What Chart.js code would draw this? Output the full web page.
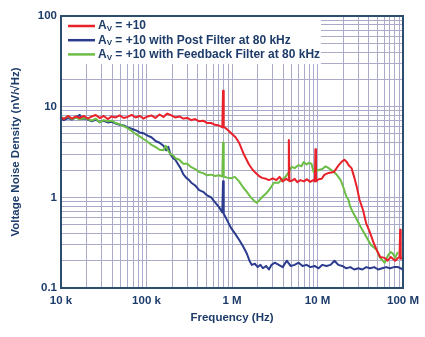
<!DOCTYPE html>
<html>
<head>
<meta charset="utf-8">
<script src="https://cdn.jsdelivr.net/npm/chart.js@4"></script>
<style>
  html, body { margin: 0; padding: 0; background: #fff; }
</style>
</head>
<body>
<canvas id="noiseChart" width="425" height="337"></canvas>
<script>
// ---- data (frequency in Hz, noise in nV/rtHz) ----
const redFreq = [10e3, 10.8e3, 12.1e3, 13.4e3, 14.9e3, 16.6e3, 18.5e3, 20.6e3, 22.9e3, 25.5e3,
  28.4e3, 31.6e3, 35.2e3, 39.2e3, 43.6e3, 48.5e3, 54e3, 60e3, 67e3, 74.5e3,
  83e3, 92e3, 103e3, 114e3, 127e3, 142e3, 158e3, 175e3, 195e3, 217e3,
  242e3, 269e3, 300e3, 334e3, 371e3, 413e3, 460e3, 512e3, 570e3, 634e3,
  706e3, 770e3, 785e3, 800e3, 840e3, 900e3, 1e6, 1.1e6, 1.21e6, 1.37e6,
  1.58e6, 1.75e6, 1.9e6, 2.1e6, 2.25e6, 2.5e6, 2.7e6, 3.0e6, 3.3e6, 3.6e6,
  3.9e6, 4.3e6, 4.55e6, 4.62e6, 4.7e6, 5.0e6, 5.4e6, 5.8e6, 6.3e6, 6.9e6,
  7.5e6, 8.2e6, 8.9e6, 9.3e6, 9.45e6, 9.6e6, 10.3e6, 11.2e6, 12e6, 13.5e6,
  15.5e6, 17.7e6, 19e6, 20.6e6, 22e6, 23e6, 25e6, 27e6, 29e6, 31e6,
  34e6, 37e6, 41e6, 45e6, 49e6, 54e6, 61e6, 66e6, 72e6, 81e6,
  88e6, 91e6, 92.5e6, 94e6, 100e6];
const redNoise = [7.7, 7.3, 7.9, 7.4, 7.8, 7.5, 7.9, 7.4, 7.8, 8.1,
  7.5, 7.9, 7.3, 7.8, 7.6, 8.0, 7.5, 7.7, 8.1, 7.6,
  7.9, 7.4, 7.8, 8.0, 7.5, 8.2, 7.7, 8.4, 8.0, 7.6,
  7.8, 7.4, 7.5, 7.1, 7.3, 6.9, 7.0, 6.6, 6.6, 6.3,
  6.2, 5.9, 15, 6.0, 5.8, 5.5, 5.0, 4.6, 4.0, 3.0,
  2.3, 2.0, 1.85, 1.7, 1.64, 1.6, 1.55, 1.62, 1.55, 1.68,
  1.5, 1.6, 1.55, 4.3, 1.5, 1.52, 1.6, 1.47, 1.55, 1.5,
  1.58, 1.48, 1.55, 1.5, 3.4, 1.5, 1.58, 1.6, 1.77, 1.86,
  1.9, 2.27, 2.45, 2.6, 2.45, 2.27, 2.1, 1.64, 1.27, 0.94,
  0.73, 0.52, 0.41, 0.32, 0.265, 0.22, 0.215, 0.2, 0.22, 0.2,
  0.215, 0.22, 0.44, 0.21, 0.215];

const blueFreq = [10e3, 10.8e3, 12.1e3, 13.4e3, 14.9e3, 16.6e3, 17.5e3, 18.5e3, 20.6e3, 22.9e3,
  25.5e3, 28.4e3, 31.6e3, 35.2e3, 39.2e3, 43.6e3, 48.5e3, 54e3, 60e3, 67e3,
  74.5e3, 83e3, 92e3, 103e3, 114e3, 127e3, 142e3, 158e3, 170e3, 180e3,
  190e3, 205e3, 217e3, 235e3, 250e3, 269e3, 290e3, 315e3, 334e3, 371e3,
  413e3, 460e3, 512e3, 570e3, 634e3, 706e3, 770e3, 785e3, 800e3, 875e3,
  973e3, 1.08e6, 1.21e6, 1.34e6, 1.49e6, 1.6e6, 1.7e6, 1.85e6, 2.0e6, 2.15e6,
  2.3e6, 2.5e6, 2.7e6, 2.9e6, 3.16e6, 3.52e6, 3.92e6, 4.36e6, 4.85e6, 5.4e6,
  6.01e6, 6.69e6, 7.45e6, 8.29e6, 9.23e6, 10.3e6, 11.4e6, 12.7e6, 14.2e6, 15.8e6,
  17.5e6, 19.5e6, 21.7e6, 24.2e6, 26.9e6, 30e6, 33.4e6, 37.2e6, 41.3e6, 46e6,
  51.2e6, 57e6, 63.4e6, 70.6e6, 78.5e6, 87.5e6, 100e6];
const blueNoise = [7.4, 7.1, 7.5, 7.2, 7.6, 8.1, 7.3, 7.4, 7.2, 6.9,
  7.2, 6.8, 7.0, 6.7, 6.8, 6.5, 6.3, 6.2, 5.9, 5.7,
  5.5, 5.2, 5.1, 4.8, 4.6, 4.2, 4.0, 3.7, 3.3, 3.6,
  3.0, 2.7, 2.6, 2.3, 2.1, 1.8, 1.65, 1.55, 1.45, 1.35,
  1.2, 1.15, 1.05, 1.0, 0.88, 0.78, 0.68, 1.5, 0.66, 0.56,
  0.46, 0.4, 0.34, 0.29, 0.24, 0.2, 0.18, 0.185, 0.17, 0.18,
  0.165, 0.175, 0.16, 0.18, 0.19, 0.18, 0.17, 0.2, 0.175, 0.18,
  0.19, 0.175, 0.18, 0.17, 0.175, 0.165, 0.18, 0.175, 0.18, 0.2,
  0.18, 0.175, 0.165, 0.17, 0.16, 0.165, 0.16, 0.17, 0.165, 0.17,
  0.16, 0.165, 0.17, 0.165, 0.17, 0.17, 0.16];

const greenFreq = [10e3, 10.8e3, 12.1e3, 13.4e3, 14.9e3, 16.6e3, 18.5e3, 20.6e3, 22.9e3, 25.5e3,
  28.4e3, 31.6e3, 35.2e3, 39.2e3, 43.6e3, 48.5e3, 54e3, 60e3, 67e3, 74.5e3,
  83e3, 92e3, 103e3, 114e3, 127e3, 142e3, 158e3, 168e3, 178e3, 190e3,
  205e3, 217e3, 242e3, 269e3, 300e3, 334e3, 371e3, 413e3, 460e3, 512e3,
  570e3, 634e3, 706e3, 770e3, 785e3, 800e3, 875e3, 973e3, 1.08e6, 1.21e6,
  1.34e6, 1.49e6, 1.66e6, 1.85e6, 1.95e6, 2.06e6, 2.29e6, 2.5e6, 2.7e6, 3.1e6,
  3.5e6, 3.9e6, 4.2e6, 4.6e6, 5.0e6, 5.4e6, 6.0e6, 6.5e6, 6.9e6, 7.45e6,
  7.9e6, 8.5e6, 9.0e6, 9.6e6, 10.3e6, 11.4e6, 12.4e6, 13.5e6, 14.5e6, 15.5e6,
  16.8e6, 18.6e6, 20e6, 21.7e6, 23e6, 24e6, 26e6, 28e6, 32e6, 37e6,
  42e6, 49e6, 54e6, 61e6, 67e6, 72e6, 76e6, 81e6, 87e6];
const greenNoise = [7.6, 7.4, 7.8, 7.3, 7.6, 7.2, 7.5, 7.3, 7.0, 7.4,
  6.7, 7.1, 6.9, 7.0, 6.6, 6.4, 6.1, 5.8, 5.4, 5.0,
  4.7, 4.4, 4.1, 3.8, 3.6, 3.35, 3.3, 3.7, 3.3, 3.0,
  2.9, 2.7, 2.6, 2.35, 2.35, 2.15, 2.05, 1.9, 1.85, 1.75,
  1.78, 1.72, 1.75, 1.7, 4.0, 1.7, 1.65, 1.62, 1.68, 1.5,
  1.3, 1.15, 1.0, 0.9, 0.87, 0.92, 1.02, 1.1, 1.2, 1.45,
  1.45, 1.6, 1.67, 1.9, 2.17, 2.1, 2.27, 2.2, 2.45, 2.3,
  2.4, 2.35, 1.9, 1.95, 2.0, 2.05, 2.2, 2.1, 2.0, 1.9,
  1.77, 1.56, 1.3, 1.02, 0.94, 0.8, 0.68, 0.6, 0.47, 0.37,
  0.3, 0.265, 0.215, 0.19, 0.23, 0.25, 0.24, 0.215, 0.25];

const seriesLabels = ['+10', '+10 with Post Filter at 80 kHz', '+10 with Feedback Filter at 80 kHz'];
const xTickLabels = ['10 k', '100 k', '1 M', '10 M', '100 M'];
const yTickLabels = ['0.1', '1', '10', '100'];

// ---- styles ----
const textColor = '#1d3c6a';
const gridColor = '#aaabc8';
const frameColor = '#2c4d6e';
const fontFamily = "'Liberation Sans', Arial, sans-serif";

function toPoints(freqs, vals) {
  return freqs.map((f, i) => ({ x: f, y: vals[i] }));
}

// 1..9 x 10^n grid values, one decade after another
function logGrid(firstExp, lastExp) {
  const out = [];
  for (let e = firstExp; e < lastExp; e++) {
    for (let m = 1; m <= 9; m++) out.push(m * Math.pow(10, e));
  }
  out.push(Math.pow(10, lastExp));
  return out;
}

function decadeLabel(value, firstExp, labels) {
  const e = Math.log10(value);
  if (Math.abs(e - Math.round(e)) > 1e-6) return '';
  return labels[Math.round(e) - firstExp];
}

// legend in the top-left corner (with the V subscript) plus plot frame
const legendAndFrame = {
  id: 'legendAndFrame',
  afterDatasetsDraw(chart) {
    const { ctx, chartArea: a } = chart;
    ctx.save();
    ctx.fillStyle = '#ffffff';
    ctx.fillRect(a.left, a.top, 260, 48);

    [0, 1, 2].forEach((idx, row) => {
      const ds = chart.data.datasets[idx];
      const y = a.top + 10 + row * 14.2;
      ctx.strokeStyle = ds.borderColor;
      ctx.lineWidth = 2.5;
      ctx.beginPath();
      ctx.moveTo(a.left + 7, y);
      ctx.lineTo(a.left + 34, y);
      ctx.stroke();

      let x = a.left + 37;
      ctx.fillStyle = textColor;
      ctx.textBaseline = 'middle';
      ctx.font = 'bold 12px ' + fontFamily;
      ctx.fillText('A', x, y);
      x += ctx.measureText('A').width;
      ctx.font = 'bold 8px ' + fontFamily;
      ctx.fillText('V', x, y + 3);
      x += ctx.measureText('V').width;
      ctx.font = 'bold 12px ' + fontFamily;
      ctx.fillText(' = ' + ds.label, x, y);
    });

    ctx.strokeStyle = frameColor;
    ctx.lineWidth = 2;
    ctx.strokeRect(a.left, a.top, a.right - a.left, a.bottom - a.top);
    ctx.restore();
  }
};

const ctx = document.getElementById('noiseChart').getContext('2d');

new Chart(ctx, {
  type: 'line',
  data: {
    datasets: [
      { label: seriesLabels[0], data: toPoints(redFreq, redNoise), borderColor: '#e8212b', order: 0 },
      { label: seriesLabels[1], data: toPoints(blueFreq, blueNoise), borderColor: '#2b3b8e', order: 2 },
      { label: seriesLabels[2], data: toPoints(greenFreq, greenNoise), borderColor: '#6cbd45', order: 1 },
    ],
  },
  options: {
    responsive: false,
    animation: false,
    layout: { padding: { top: 16, right: 21, bottom: 0, left: 0 } },
    elements: {
      line: { borderWidth: 2, tension: 0, borderJoinStyle: 'round', fill: false },
      point: { radius: 0 },
    },
    plugins: {
      legend: { display: false },
      tooltip: { enabled: false },
    },
    scales: {
      x: {
        type: 'logarithmic',
        min: 1e4,
        max: 1e8,
        afterBuildTicks: (scale) => { scale.ticks = logGrid(4, 8).map(v => ({ value: v })); },
        afterFit: (scale) => { scale.height = 49; },
        grid: { color: gridColor, lineWidth: 1, drawTicks: false },
        border: { display: false },
        ticks: {
          autoSkip: false,
          maxRotation: 0,
          padding: 6,
          color: textColor,
          font: { family: fontFamily, size: 11.5, weight: 'bold' },
          callback: (value) => decadeLabel(value, 4, xTickLabels),
        },
        title: {
          display: true,
          text: 'Frequency (Hz)',
          color: textColor,
          font: { family: fontFamily, size: 11.5, weight: 'bold' },
          padding: { top: 0, bottom: 12 },
        },
      },
      y: {
        type: 'logarithmic',
        min: 0.1,
        max: 100,
        afterBuildTicks: (scale) => { scale.ticks = logGrid(-1, 2).map(v => ({ value: v })); },
        afterFit: (scale) => { scale.width = 61; },
        grid: { color: gridColor, lineWidth: 1, drawTicks: false },
        border: { display: false },
        ticks: {
          autoSkip: false,
          padding: 4,
          color: textColor,
          font: { family: fontFamily, size: 11.5, weight: 'bold' },
          callback: (value) => decadeLabel(value, -1, yTickLabels),
        },
        title: {
          display: true,
          text: 'Voltage Noise Density (nV/√Hz)',
          color: textColor,
          font: { family: fontFamily, size: 11.5, weight: 'bold' },
          padding: { top: 9, bottom: 0 },
        },
      },
    },
  },
  plugins: [legendAndFrame],
});
</script>
</body>
</html>
